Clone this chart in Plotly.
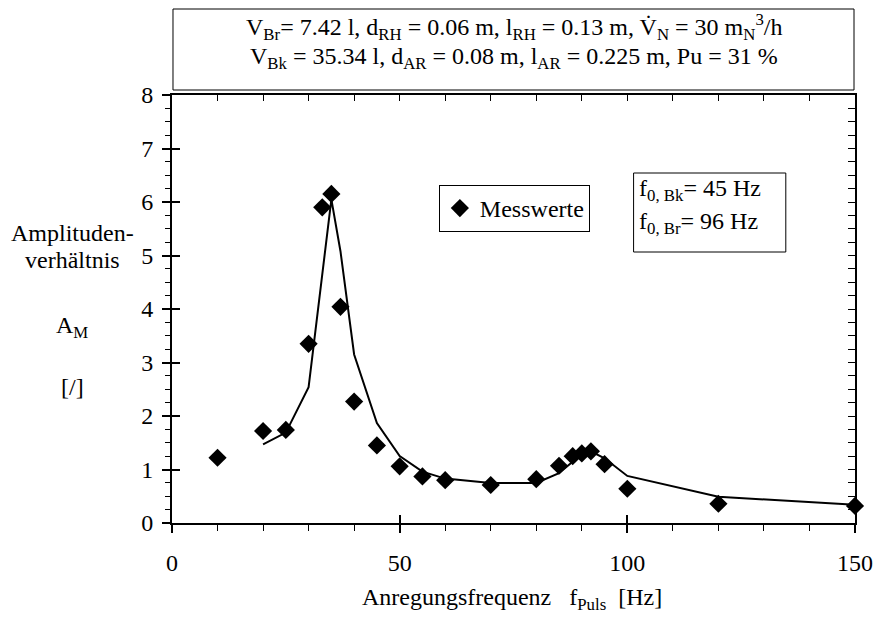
import plotly.graph_objects as go

# Messwerte
f_mess = [10, 20, 25, 30, 33, 35, 37, 40, 45, 50, 55, 60, 70, 80, 85, 88, 90, 92, 95, 100, 120, 150]
a_mess = [1.22, 1.72, 1.74, 3.35, 5.9, 6.15, 4.04, 2.27, 1.45, 1.06, 0.87, 0.80, 0.71, 0.82, 1.07,
          1.25, 1.30, 1.34, 1.10, 0.64, 0.36, 0.32]

# Rechnung
f_calc = [20, 25, 30, 33, 35, 37, 40, 45, 50, 55, 60, 70, 80, 85, 88, 90, 92, 95, 100, 120, 150]
a_calc = [1.47, 1.69, 2.54, 4.61, 6.05, 5.08, 3.15, 1.87, 1.25, 0.96, 0.83, 0.75, 0.75, 0.93,
          1.15, 1.29, 1.34, 1.21, 0.88, 0.49, 0.34]

FONT = 'Liberation Serif'
FS = 24

# Plotbereich in Pixel (für Annotationen)
L, R, T, B = 172, 863, 95, 523
W, H = 885, 617


def px(x):
    return (x - L) / (R - L)


def py(y):
    return (B - y) / (B - T)


fig = go.Figure()

fig.add_trace(go.Scatter(
    x=f_calc, y=a_calc, mode='lines',
    line=dict(color='black', width=2),
    showlegend=False, hoverinfo='skip',
))
fig.add_trace(go.Scatter(
    x=f_mess, y=a_mess, mode='markers', name='Messwerte',
    marker=dict(symbol='diamond', size=14, color='black'),
    cliponaxis=False,
))
# Dummy-Spuren für Zusatzachsen
fig.add_trace(go.Scatter(x=[None], y=[None], xaxis='x2', yaxis='y2', showlegend=False, hoverinfo='skip'))
fig.add_trace(go.Scatter(x=[None], y=[None], xaxis='x3', yaxis='y3', showlegend=False, hoverinfo='skip'))

ax_common = dict(showgrid=False, zeroline=False, linecolor='black', tickcolor='black')

fig.update_layout(
    xaxis=dict(range=[0, 150], tick0=0, dtick=50, ticks='outside', ticklen=8, tickwidth=1.5,
               showline=True, linewidth=2, ticklabelstandoff=9, ticklabeloverflow='allow',
               minor=dict(dtick=10, ticks='outside', ticklen=6, tickcolor='black', tickwidth=1),
               tickfont=dict(size=FS, family=FONT, color='black'), **ax_common),
    xaxis2=dict(range=[0, 150], overlaying='x', side='top', anchor='y', tick0=0, dtick=10,
                ticks='inside', ticklen=6, showline=True, linewidth=1.5, showticklabels=False,
                **ax_common),
    xaxis3=dict(range=[0, 150], overlaying='x', side='bottom', anchor='y', tick0=0, dtick=50,
                ticks='inside', ticklen=8, tickwidth=1.5, showline=False, showticklabels=False,
                **ax_common),
    yaxis=dict(range=[0, 8], tick0=0, dtick=1, ticks='outside', ticklen=8, tickwidth=1.5,
               showline=True, linewidth=2, ticklabelstandoff=4,
               minor=dict(dtick=0.25, ticks='outside', ticklen=5, tickcolor='black', tickwidth=1),
               tickfont=dict(size=FS, family=FONT, color='black'), **ax_common),
    yaxis2=dict(range=[0, 8], overlaying='y', side='right', anchor='x', tick0=0, dtick=0.25,
                ticks='inside', ticklen=7, showline=True, linewidth=1.5, showticklabels=False,
                **ax_common),
    yaxis3=dict(range=[0, 8], overlaying='y', side='left', anchor='x', tick0=0, dtick=1,
                ticks='inside', ticklen=8, tickwidth=1.5, showline=False, showticklabels=False,
                **ax_common),
    width=W, height=H,
    margin=dict(l=L, r=W - R, t=T, b=H - B),
    plot_bgcolor='white', paper_bgcolor='white',
    font=dict(family=FONT, size=FS, color='black'),
    legend=dict(x=px(442), y=py(185), xanchor='left', yanchor='top',
                bgcolor='white', bordercolor='black', borderwidth=1,
                font=dict(size=FS, family=FONT, color='black'),
                itemwidth=30, tracegroupgap=0),
)

# Kasten oben
fig.add_shape(type='rect', xref='paper', yref='paper',
              x0=px(173), x1=px(862), y0=py(90), y1=py(9),
              line=dict(color='black', width=1), fillcolor='white')
top_lines = [
    ('V<sub>Br</sub>= 7.42 l, d<sub>RH</sub> = 0.06 m, l<sub>RH</sub> = 0.13 m, '
     'V\u0307<sub>N</sub> = 30 m<sub>N</sub><sup>3</sup>/h', 27),
    ('V<sub>Bk</sub> = 35.34 l, d<sub>AR</sub> = 0.08 m, l<sub>AR</sub> = 0.225 m, Pu = 31 %', 58),
]
for txt, ypix in top_lines:
    fig.add_annotation(x=px(518), y=py(ypix), xref='paper', yref='paper', text=txt,
                       showarrow=False, xanchor='center', yanchor='middle',
                       font=dict(size=FS, family=FONT, color='black'))

# Kasten Eigenfrequenzen
fig.add_shape(type='rect', xref='paper', yref='paper',
              x0=px(639), x1=px(793), y0=py(252), y1=py(173),
              line=dict(color='black', width=1), fillcolor='white')
for txt, ypix in [('f<sub>0, Bk</sub>= 45 Hz', 190), ('f<sub>0, Br</sub>= 96 Hz', 223)]:
    fig.add_annotation(x=px(642), y=py(ypix), xref='paper', yref='paper', text=txt,
                       showarrow=False, xanchor='left', yanchor='middle',
                       font=dict(size=FS, family=FONT, color='black'))

# y-Achsenbeschriftung
for txt, ypix in [('Amplituden-', 233), ('verhältnis', 260), ('A<sub>M</sub>', 327), ('[/]', 387)]:
    fig.add_annotation(x=px(71), y=py(ypix), xref='paper', yref='paper', text=txt,
                       showarrow=False, xanchor='center', yanchor='middle',
                       font=dict(size=FS, family=FONT, color='black'))

# x-Achsenbeschriftung
fig.add_annotation(x=px(516), y=py(599), xref='paper', yref='paper',
                   text='Anregungsfrequenz\u00a0\u00a0\u00a0f<sub>Puls</sub>\u00a0\u00a0[Hz]',
                   showarrow=False, xanchor='center', yanchor='middle',
                   font=dict(size=FS, family=FONT, color='black'))

# body-Rand entfernen, damit die Figur genau ins Fenster passt
fig.write_html('out.html', config={'displayModeBar': False},
               post_script="document.body.style.margin='0';")
